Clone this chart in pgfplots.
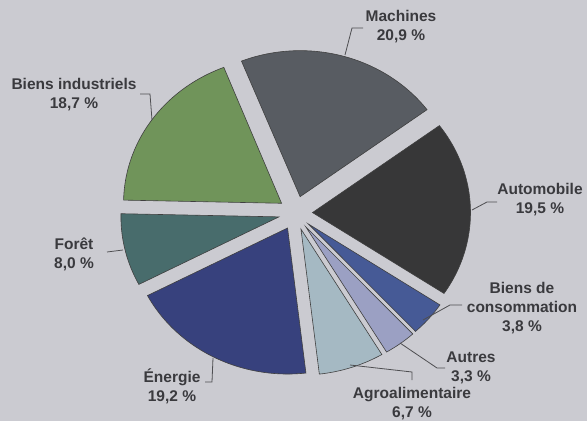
\documentclass[border=0pt]{standalone}
\usepackage{pgfplots}
\pgfplotsset{compat=1.18}
\usepackage{fontspec}
\setmainfont{Liberation Sans}
\definecolor{bg}{RGB}{203,203,209}
\definecolor{txt}{RGB}{58,58,62}
\definecolor{cMach}{RGB}{88,92,98}
\definecolor{cAuto}{RGB}{55,55,56}
\definecolor{cConso}{RGB}{70,90,150}
\definecolor{cAutres}{RGB}{155,160,195}
\definecolor{cAgro}{RGB}{165,185,195}
\definecolor{cEner}{RGB}{55,65,125}
\definecolor{cForet}{RGB}{72,108,108}
\definecolor{cInd}{RGB}{112,148,90}

% geometry of the pie (axis units = pixels)
\def\cx{295.5}\def\cy{208}\def\rx{158}\def\ry{146}\def\ex{17}
\gdef\curang{111.8}
\newcommand\slice[2]{%
  \pgfmathsetmacro\aone{\curang}%
  \pgfmathsetmacro\atwo{\curang-3.6*#1}%
  \pgfmathsetmacro\amid{(\aone+\atwo)/2}%
  \pgfmathsetmacro\cxs{\cx+\ex*cos(\amid)}%
  \pgfmathsetmacro\cys{\cy+\ex*sin(\amid)}%
  \edef\temp{\noexpand\addplot[fill=#2, draw=black!75, line width=0.6pt, domain=\atwo:\aone, samples=80, variable=\noexpand\t]
    ({\cxs+\rx*cos(\noexpand\t)}, {\cys+\ry*sin(\noexpand\t)}) -- (axis cs:\cxs,\cys) -- cycle;}%
  \temp
  \xdef\curang{\atwo}%
}

\begin{document}
\begin{tikzpicture}
\begin{axis}[
  x=1pt, y=1pt, xmin=0, xmax=587, ymin=0, ymax=421,
  scale only axis, hide axis, clip=false,
]
\fill[bg] (rel axis cs:0,0) rectangle (rel axis cs:1,1);

\slice{20.9}{cMach}
\slice{19.5}{cAuto}
\slice{3.8}{cConso}
\slice{3.3}{cAutres}
\slice{6.7}{cAgro}
\slice{19.2}{cEner}
\slice{8.0}{cForet}
\slice{18.7}{cInd}

\tikzset{lbl/.style={align=center, text=txt, font=\bfseries\fontsize{15.5}{19}\selectfont, inner sep=0pt},
         ldr/.style={draw=txt!90, line width=0.8pt}}
\draw[ldr] (axis cs:345,366) -- (axis cs:352,393) -- (axis cs:363,393);
\draw[ldr] (axis cs:152,301) -- (axis cs:150,327) -- (axis cs:140,327);
\draw[ldr] (axis cs:472,211) -- (axis cs:487,219) -- (axis cs:497,219);
\draw[ldr] (axis cs:423,101) -- (axis cs:450,116) -- (axis cs:462,116);
\draw[ldr] (axis cs:400,78) -- (axis cs:437,53) -- (axis cs:445,53);
\draw[ldr] (axis cs:350,56) -- (axis cs:412,49) -- (axis cs:412,41);
\draw[ldr] (axis cs:213,63) -- (axis cs:212,39) -- (axis cs:205,39);
\draw[ldr] (axis cs:123,171) -- (axis cs:107,169);

\node[lbl] at (axis cs:401,394) {Machines\\20,9~\%};
\node[lbl] at (axis cs:74,326) {Biens industriels\\18,7~\%};
\node[lbl] at (axis cs:540,221) {Automobile\\19,5~\%};
\node[lbl] at (axis cs:522,113) {Biens de\\consommation\\3,8~\%};
\node[lbl] at (axis cs:471,53) {Autres\\3,3~\%};
\node[lbl] at (axis cs:412,17) {Agroalimentaire\\6,7~\%};
\node[lbl] at (axis cs:172,35) {Énergie\\19,2~\%};
\node[lbl] at (axis cs:74,167) {Forêt\\8,0~\%};
\end{axis}
\end{tikzpicture}
\end{document}
